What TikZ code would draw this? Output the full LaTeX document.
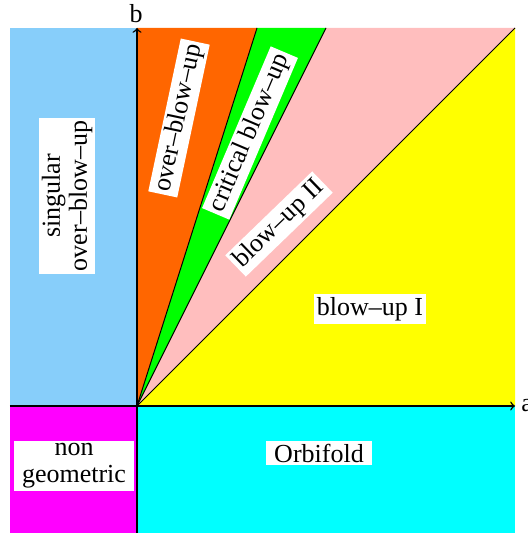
\documentclass[tikz,border=0pt]{standalone}
\usepackage{fontspec}
\setmainfont{Liberation Serif}
\definecolor{ltblue}{RGB}{135,206,250}
\definecolor{figorange}{RGB}{255,102,0}
\definecolor{figpink}{RGB}{255,190,190}
\definecolor{figgreen}{RGB}{0,255,0}
\definecolor{figyellow}{RGB}{255,255,0}
\definecolor{figcyan}{RGB}{0,255,255}
\definecolor{figmagenta}{RGB}{255,0,255}
\tikzset{
  region/.style={draw=none},
  border/.style={line width=0.5pt},
  axis/.style={line width=0.7pt,-to},
  tag/.style={fill=white,inner sep=1.5pt,align=center,font=\fontsize{13}{13.5}\selectfont},
  axlabel/.style={inner sep=0pt,font=\fontsize{13}{13.5}\selectfont}
}
\begin{document}
\begin{tikzpicture}[x=0.5pt,y=0.5pt]
            \useasboundingbox (-137,-128) rectangle (391,406);
            % regions
            \fill [ltblue] (-127,0) rectangle (0,378);
            \fill [figmagenta] (-127,-127) rectangle (0,0);
            \fill [figcyan] (0,-127) rectangle (378,0);
            \fill [figyellow] (0,0) -- (378,0) -- (378,378) -- cycle;
            \fill [figpink] (0,0) -- (378,378) -- (189,378) -- cycle;
            \fill [figgreen] (0,0) -- (189,378) -- (120,378) -- cycle;
            \fill [figorange] (0,0) -- (120,378) -- (0,378) -- cycle;
            \coordinate (O) at (0,0);
            \coordinate (t1) at (120,378);
            \coordinate (t2) at (189,378);
            \coordinate (t3) at (378,378);
            \coordinate (aL) at (-127,0);
            \coordinate (aR) at (378,0);
            \coordinate (bB) at (0,-127);
            \coordinate (bT) at (0,378);
            \draw [border] (O) -- (t1);
            \draw [border] (O) -- (t2);
            \draw [border] (O) -- (t3);
            \draw [axis] (aL) -- (aR);
            \draw [axis] (bB) -- (bT);
            \node [axlabel,anchor=west] (alab) at (384,0) {a};
            \node [axlabel] (blab) at (-1,392) {b};
            \node [tag,rotate=78] (overblow) at (42,288) {over--blow--up};
            \node [tag,rotate=67] (critical) at (113,273) {critical blow--up};
            \node [tag,rotate=44] (blowtwo) at (142,182) {blow--up II};
            \node [tag,rotate=90] (singular) at (-70,210) {singular\\over--blow--up};
            \node [tag] (blowone) at (233,97) {blow--up I};
            \node [tag,inner xsep=4pt] (orbifold) at (182,-47) {Orbifold};
            \node [tag,inner xsep=4pt] (nongeo) at (-63,-60) {non\\geometric};
        \end{tikzpicture}
\end{document}
